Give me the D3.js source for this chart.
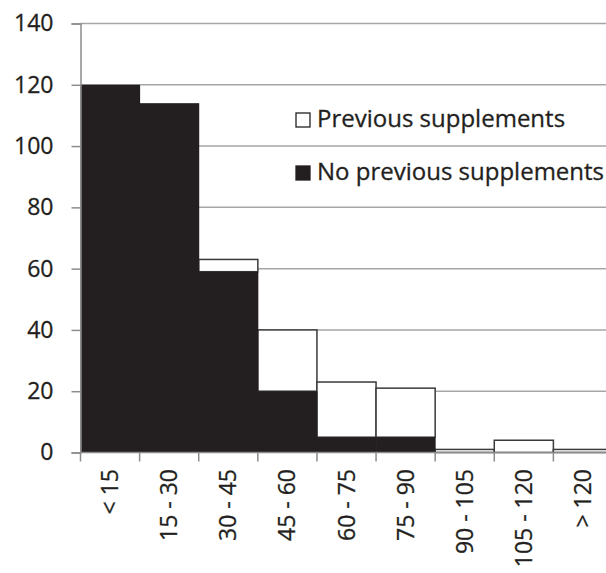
<!DOCTYPE html>
<html><head><meta charset="utf-8">
<script src="https://cdn.jsdelivr.net/npm/d3@7"></script>
<style>
html,body{margin:0;padding:0;background:#fff;}
svg{display:block;}
text{font-family:"Open Sans",sans-serif;fill:#231f20;stroke:#231f20;stroke-width:0.3px;}
</style></head>
<body>
<script>
const categories = ["< 15","15 - 30","30 - 45","45 - 60","60 - 75","75 - 90","90 - 105","105 - 120","> 120"];
const noPrevious = [120,114,59,20,5,5,0,0,0];
const previous = [0,0,4,20,18,16,1,4,1];
const yTicks = [0,20,40,60,80,100,120,140];
const seriesNames = ["Previous supplements","No previous supplements"];

const W = 606, H = 573;
const svg = d3.select("body").append("svg").attr("width", W).attr("height", H);

const x = d3.scaleBand().domain(categories).range([80.5, 612.5]).padding(0);
const y = d3.scaleLinear().domain([0,140]).range([452.5, 23.5]);

// gridlines
svg.append("g").selectAll("line").data(yTicks.filter(d=>d>0)).join("line")
  .attr("x1", 80.5).attr("x2", W).attr("y1", d=>y(d)).attr("y2", d=>y(d))
  .attr("stroke", "#a6a6a6").attr("stroke-width", 1.5);

const data = categories.map((c,i)=>({c, a:noPrevious[i], b:previous[i]}));

// previous (white, stacked on top)
svg.append("g").selectAll("rect").data(data.filter(d=>d.b>0)).join("rect")
  .attr("x", d=>x(d.c)).attr("width", x.bandwidth())
  .attr("y", d=>y(d.a+d.b)).attr("height", d=>y(d.a)-y(d.a+d.b))
  .attr("fill", "#fff").attr("stroke", "#3a3a3a").attr("stroke-width", 1.5);

// no previous (black)
svg.append("g").selectAll("rect").data(data.filter(d=>d.a>0)).join("rect")
  .attr("x", d=>x(d.c)).attr("width", x.bandwidth()+0.5)
  .attr("y", d=>y(d.a)).attr("height", d=>y(0)-y(d.a))
  .attr("fill", "#231f20");

// y axis
const yAxis = svg.append("g").attr("transform","translate(80.5,0)")
  .call(d3.axisLeft(y).tickValues(yTicks).tickSize(9).tickPadding(18));
yAxis.select(".domain").attr("stroke","#8c8c8c").attr("stroke-width",1.5);
yAxis.selectAll(".tick line").attr("stroke","#8c8c8c").attr("stroke-width",1.5);
yAxis.selectAll("text").attr("font-size", 23).attr("fill","#231f20")
  .style("font-family","'Open Sans',sans-serif");

// x axis baseline + boundary ticks
svg.append("line").attr("x1",80.5).attr("x2",W).attr("y1",y(0)).attr("y2",y(0))
  .attr("stroke","#8c8c8c").attr("stroke-width",1.5);
const bounds = categories.map(c=>x(c));
svg.append("g").selectAll("line").data(bounds).join("line")
  .attr("x1",d=>d).attr("x2",d=>d).attr("y1",y(0)).attr("y2",y(0)+9)
  .attr("stroke","#8c8c8c").attr("stroke-width",1.5);

// x labels
svg.append("g").selectAll("text").data(categories).join("text")
  .attr("transform", d=>`translate(${x(d)+x.bandwidth()/2},469) rotate(-90)`)
  .attr("text-anchor","end").attr("dy","0.35em")
  .attr("font-size", 23).text(d=>d);

// legend
const leg = svg.append("g");
const items = [{name:seriesNames[0], fill:"#fff", y:127},{name:seriesNames[1], fill:"#231f20", y:180}];
items.forEach(it=>{
  leg.append("rect").attr("x",296).attr("y",it.y-14).attr("width",14).attr("height",14)
    .attr("fill",it.fill).attr("stroke","#231f20").attr("stroke-width",1.3);
  leg.append("text").attr("x",317).attr("y",it.y).attr("font-size",24).text(it.name);
});
</script>
</body></html>
